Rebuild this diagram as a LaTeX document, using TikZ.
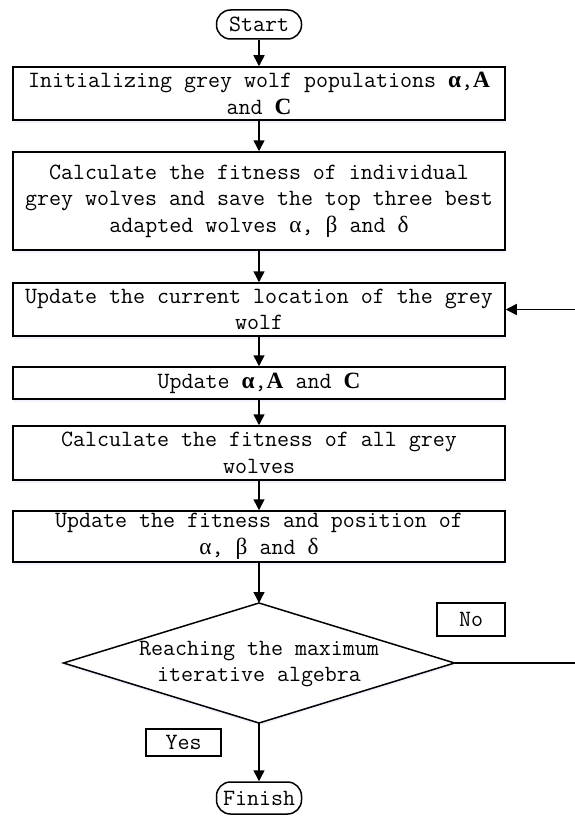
\documentclass[tikz,border=0pt]{standalone}
\usepackage{fontspec}
\setmainfont{Latin Modern Mono}
\newfontfamily\gk{Liberation Serif}
\newcommand{\bsym}[1]{{\gk\bfseries #1}}
\newcommand{\gsym}[1]{{\gk #1}}
\usetikzlibrary{arrows.meta,shadows}
\tikzset{
  every node/.style={font=\fontsize{23.3}{26.5}\selectfont, text=black},
  procbox/.style={draw, line width=1.5pt, minimum width=492pt, align=center, inner sep=0pt, fill=white,
    drop shadow={opacity=0.25, fill=blue!20, shadow xshift=0pt, shadow yshift=-2.5pt}},
  pill/.style={draw, line width=1.5pt, rounded corners=14pt, minimum width=85pt, inner sep=0pt, fill=white},
  lbl/.style={draw, line width=1.2pt, inner sep=0pt},
  flow/.style={line width=1.5pt, -{Triangle[length=11pt,width=11pt]}},
  plain/.style={line width=1.5pt}
}
\begin{document}
\begin{tikzpicture}[x=1pt,y=-1pt]
\useasboundingbox (0,0) rectangle (574,816);
\node[pill, minimum height=29pt] (start) at (259,24.5) {Start};
\node[procbox, minimum height=53pt] (b1) at (259,93.5) {Initializing grey wolf populations \bsym{α},\bsym{A}\\and \bsym{C}};
\node[procbox, minimum height=98pt] (b2) at (259,201) {Calculate the fitness of individual\\grey wolves and save the top three best\\adapted wolves \gsym{α}, \gsym{β} and \gsym{δ}};
\node[procbox, minimum height=53pt] (b3) at (259,309.5) {Update the current location of the grey\\wolf};
\node[procbox, minimum height=32pt] (b4) at (259,383) {Update \bsym{α},\bsym{A} and \bsym{C}};
\node[procbox, minimum height=54pt] (b5) at (259,453) {Calculate the fitness of all grey\\wolves};
\node[procbox, minimum height=51pt] (b6) at (259,536.5) {Update the fitness and position of\\\gsym{α}, \gsym{β} and \gsym{δ}};
% decision diamond
\coordinate (dt) at (259,603);
\coordinate (db) at (259,723);
\coordinate (dl) at (63.5,663);
\coordinate (dr) at (454.5,663);
\fill[blue!20, opacity=0.25] ([yshift=-2.5pt]dt) -- ([yshift=-2.5pt]dr) -- ([yshift=-2.5pt]db) -- ([yshift=-2.5pt]dl) -- cycle;
\draw[plain, fill=white, line join=miter] (dt) -- (dr) -- (db) -- (dl) -- cycle;
\node[align=center] (d) at (259,664) {Reaching the maximum\\iterative algebra};
\node[pill, minimum height=32pt] (finish) at (259,798) {Finish};
\node[lbl, minimum width=68pt, minimum height=33pt] (no) at (471,619.5) {No};
\node[lbl, minimum width=75pt, minimum height=27pt] (yes) at (183.5,742.5) {Yes};
\coordinate (rb) at (578,663);
\draw[flow] (start) -- (b1);
\draw[flow] (b1) -- (b2);
\draw[flow] (b2) -- (b3);
\draw[flow] (b3) -- (b4);
\draw[flow] (b4) -- (b5);
\draw[flow] (b5) -- (b6);
\draw[flow] (b6) -- (dt);
\draw[flow] (db) -- (finish);
\draw[flow] (dr) -- (rb) |- (b3.east);
\end{tikzpicture}
\end{document}
